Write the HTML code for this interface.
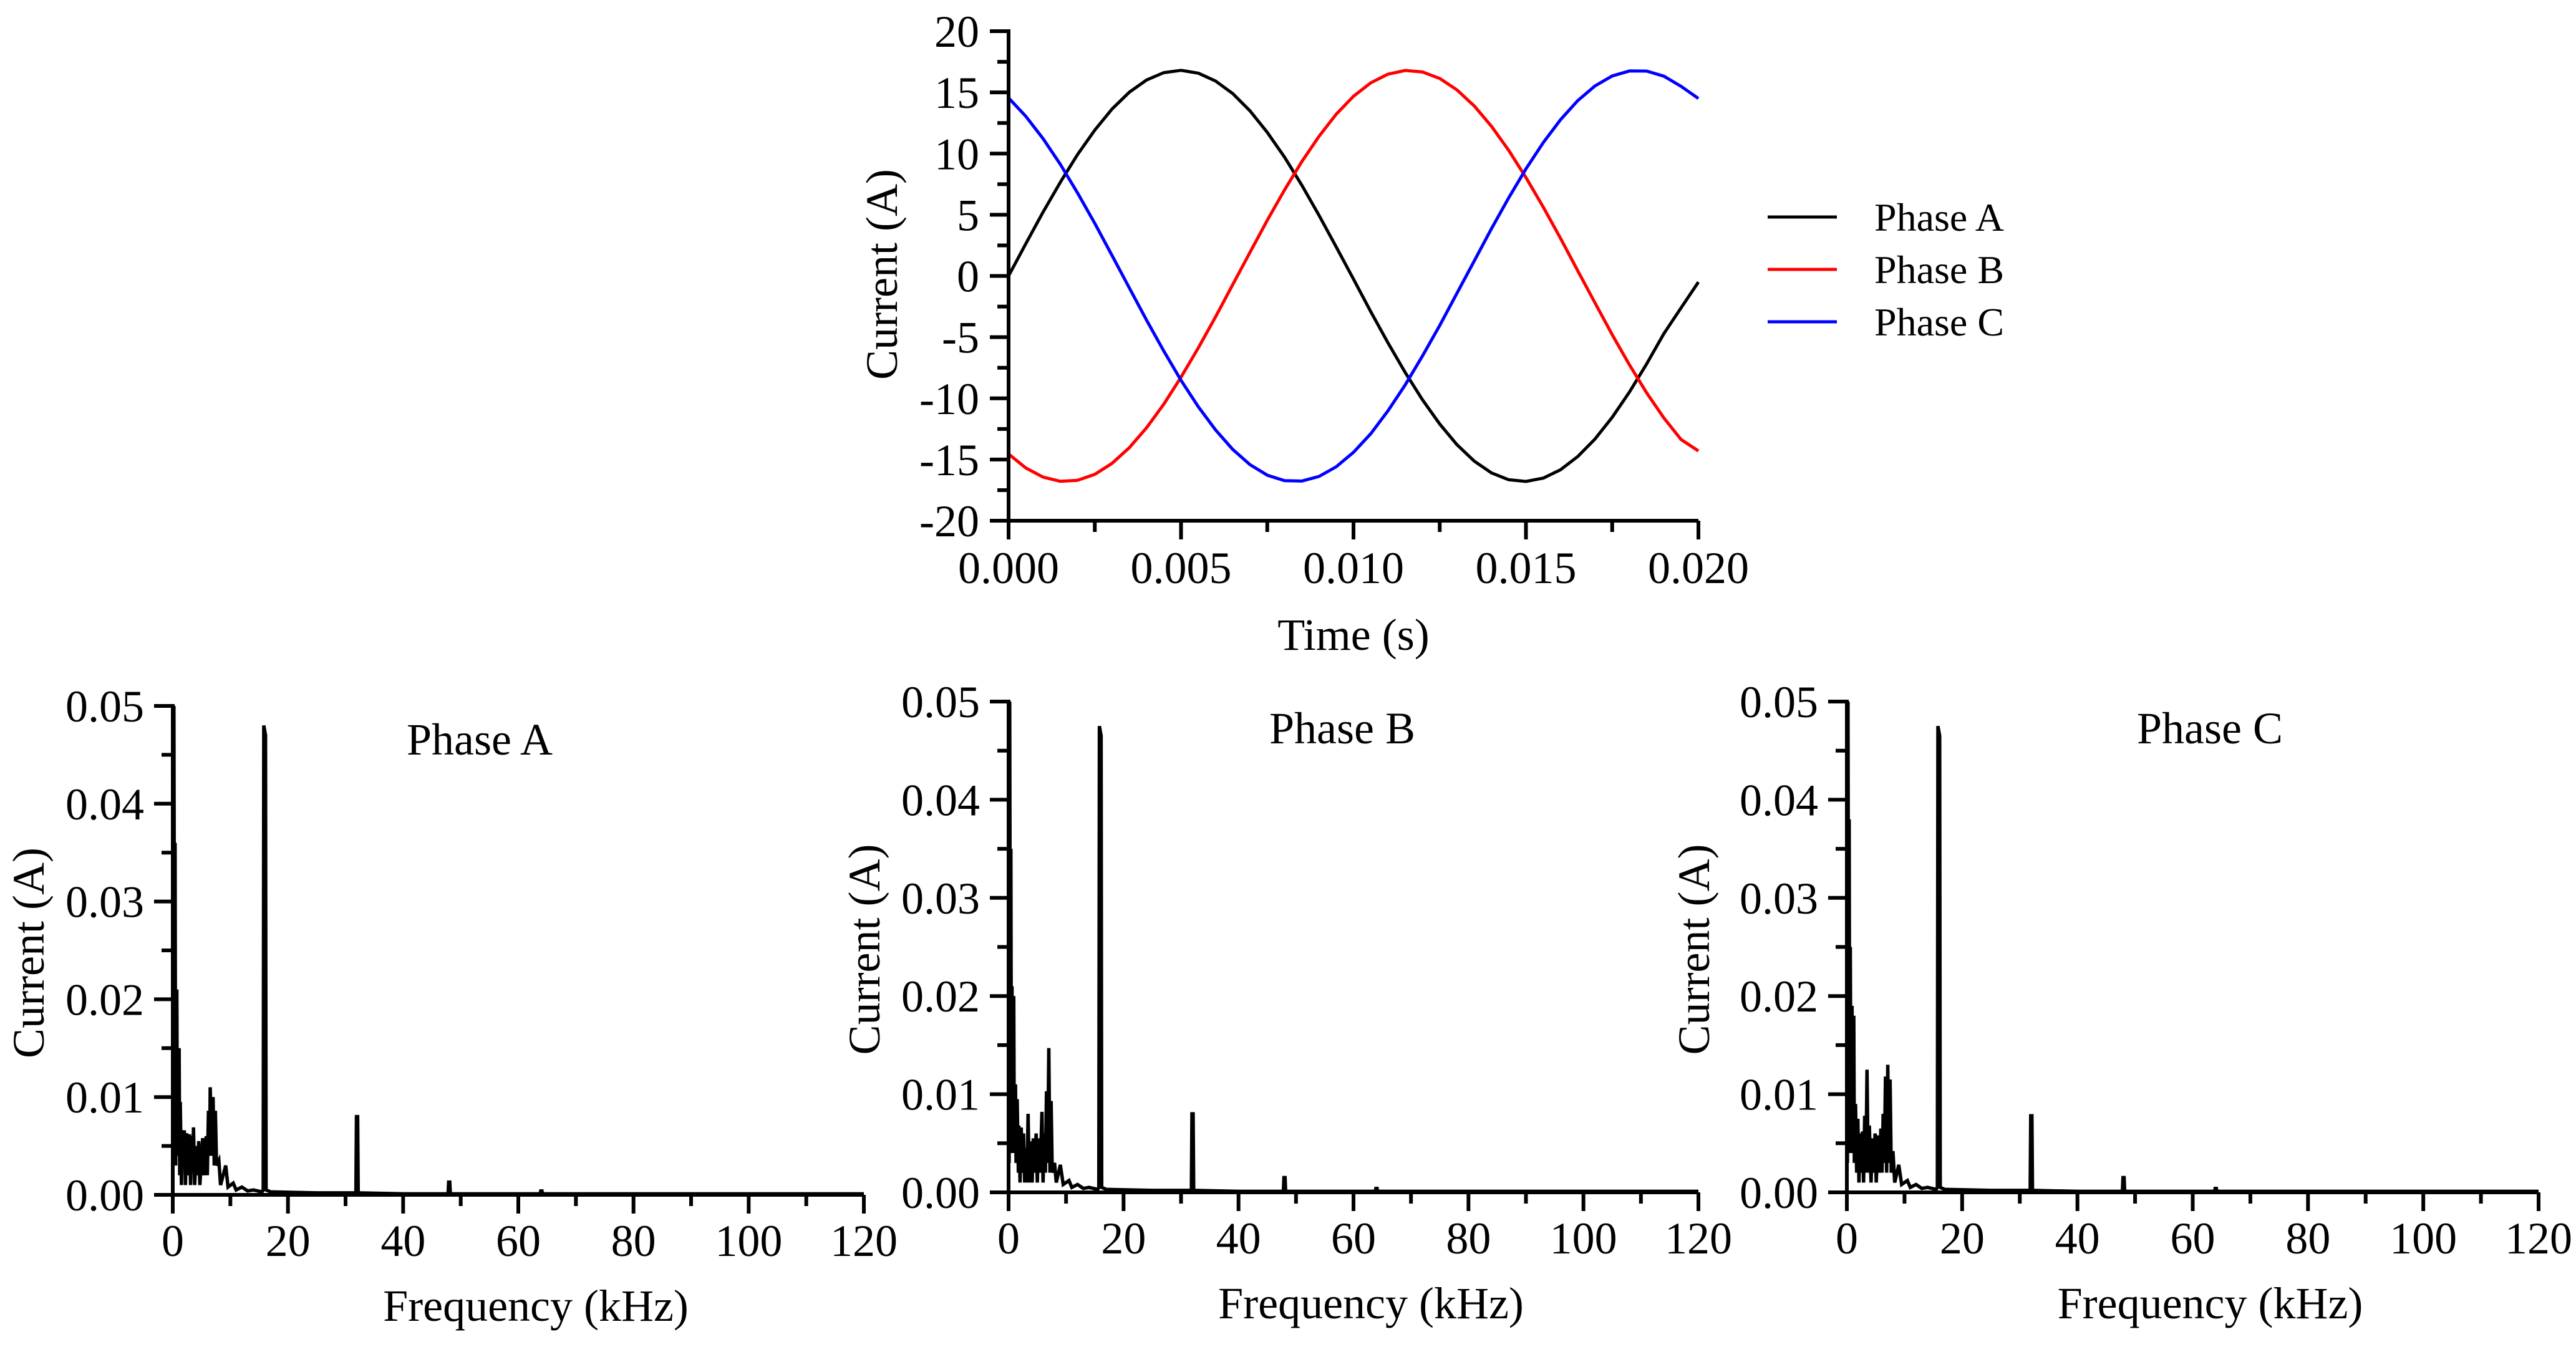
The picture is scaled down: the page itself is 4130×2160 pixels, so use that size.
<!DOCTYPE html>
<html><head><meta charset="utf-8"><style>
html,body{margin:0;padding:0;background:#fff;}
svg{display:block;}
svg text{font-family:"Liberation Serif","Times New Roman",serif;fill:#000;}
</style></head><body>
<svg id="fig" width="4130" height="2160" viewBox="0 0 4130 2160" xmlns="http://www.w3.org/2000/svg" font-family="Liberation Serif, serif"></svg>
<script>
// ---- Top chart data (time domain) ----
const timeStep = 0.0005;
const phaseA = [0,2.64,5.22,7.66,9.92,11.92,13.64,15.01,16.01,16.61,16.80,16.57,15.93,14.90,13.49,11.73,9.71,7.42,4.96,2.37,-0.26,-2.92,-5.47,-7.89,-10.12,-12.10,-13.79,-15.13,-16.09,-16.65,-16.79,-16.52,-15.84,-14.76,-13.33,-11.55,-9.49,-7.18,-4.71,-2.6,-0.5];
const phaseB = [-14.55,-15.69,-16.44,-16.78,-16.70,-16.21,-15.31,-14.04,-12.41,-10.48,-8.27,-5.88,-3.35,-0.70,1.93,4.55,7.02,9.34,11.41,13.22,14.68,15.78,16.49,16.79,16.67,16.14,15.20,13.89,12.23,10.27,8.04,5.63,3.09,0.44,-2.19,-4.80,-7.26,-9.56,-11.61,-13.37,-14.3];
const phaseC = [14.55,13.04,11.22,9.12,6.78,4.29,1.67,-0.97,-3.61,-6.13,-8.53,-10.69,-12.58,-14.18,-15.42,-16.28,-16.73,-16.76,-16.38,-15.59,-14.41,-12.89,-11.02,-8.90,-6.54,-4.04,-1.41,1.23,3.86,6.38,8.75,10.89,12.76,14.32,15.52,16.34,16.75,16.74,16.32,15.49,14.5];
const timeTicks = ["0.000","0.005","0.010","0.015","0.020"];
const currentTicks = ["-20","-15","-10","-5","0","5","10","15","20"];
const legendLabels = ["Phase A","Phase B","Phase C"];

// ---- Spectrum data ----
const specAFreq = [0,0.1,0.2,0.35,0.4,0.5,0.7,0.8,1.1,1.2,1.3,1.5,1.6,1.8,2.0,2.2,2.4,2.6,2.9,3.1,3.3,3.5,3.6,3.8,4.1,4.3,4.5,4.7,5.2,5.4,5.8,6.0,6.2,6.4,6.5,6.8,7.0,7.2,7.4,7.6,8.0,8.3,9.2,9.6,10.5,11,12,13,14,15.5,15.7,15.8,16.1,16.2,17,25,31.8,31.9,32.1,32.2,40,47.8,47.9,48.1,48.2,63.8,63.9,64.1,64.2,120];
const specAAmp = [0.050,0.003,0.050,0.004,0.036,0.003,0.021,0.004,0.015,0.002,0.0095,0.001,0.0066,0.004,0.0066,0.001,0.0063,0.002,0.0062,0.001,0.0060,0.003,0.0069,0.001,0.0050,0.002,0.0055,0.001,0.0058,0.002,0.0060,0.002,0.0086,0.004,0.011,0.004,0.010,0.003,0.0086,0.003,0.0035,0.001,0.003,0.0008,0.0012,0.0005,0.0008,0.0004,0.0005,0.0003,0.0005,0.048,0.047,0.0005,0.0003,0.0002,0.0002,0.008,0.008,0.0002,0.0001,0.0001,0.0013,0.0013,0.0001,0.0001,0.0004,0.0004,0.0001,0.0001];
const specBFreq = [0,0.1,0.2,0.35,0.4,0.5,0.6,0.7,0.9,1.0,1.2,1.3,1.5,1.7,1.8,2.0,2.2,2.4,2.6,2.8,3.0,3.2,3.4,3.6,3.9,4.1,4.3,4.5,4.8,5.0,5.2,5.5,5.8,6.0,6.2,6.4,6.6,6.8,7.0,7.2,7.4,7.6,8.0,8.3,9.0,9.5,10.5,11,12,13,14,15.5,15.7,15.8,16.1,16.2,17,25,31.8,31.9,32.1,32.2,40,47.8,47.9,48.1,48.2,63.8,63.9,64.1,64.2,120];
const specBAmp = [0.050,0.003,0.050,0.004,0.035,0.004,0.021,0.008,0.020,0.004,0.011,0.003,0.0095,0.002,0.0068,0.001,0.0066,0.002,0.0060,0.001,0.0045,0.001,0.0080,0.001,0.0052,0.001,0.0055,0.002,0.0060,0.001,0.0055,0.002,0.0082,0.001,0.0060,0.002,0.0103,0.003,0.0147,0.002,0.0093,0.002,0.0030,0.001,0.0028,0.0008,0.0012,0.0005,0.0008,0.0004,0.0005,0.0003,0.0005,0.0475,0.0465,0.0005,0.0003,0.0002,0.0002,0.008,0.008,0.0002,0.0001,0.0001,0.0015,0.0015,0.0001,0.0001,0.0004,0.0004,0.0001,0.0001];
const specCFreq = [0,0.1,0.2,0.35,0.4,0.5,0.6,0.7,0.9,1.0,1.2,1.3,1.5,1.7,1.9,2.1,2.3,2.5,2.7,2.9,3.1,3.3,3.5,3.7,3.9,4.2,4.4,4.6,4.9,5.1,5.4,5.7,5.9,6.1,6.3,6.5,6.7,6.9,7.1,7.3,7.5,7.7,8.0,8.3,9.0,9.5,10.5,11,12,13,14,15.5,15.7,15.8,16.1,16.2,17,25,31.8,31.9,32.1,32.2,40,47.8,47.9,48.1,48.2,63.8,63.9,64.1,64.2,120];
const specCAmp = [0.050,0.003,0.050,0.004,0.038,0.004,0.025,0.008,0.019,0.004,0.018,0.003,0.0090,0.002,0.0075,0.001,0.0060,0.002,0.0062,0.001,0.0078,0.002,0.0125,0.002,0.0068,0.001,0.0055,0.002,0.0060,0.001,0.0058,0.002,0.0065,0.002,0.0080,0.003,0.0118,0.002,0.0130,0.003,0.0115,0.002,0.0042,0.001,0.0028,0.0008,0.0012,0.0005,0.0008,0.0004,0.0005,0.0003,0.0005,0.0475,0.0465,0.0005,0.0003,0.0002,0.0002,0.0078,0.0078,0.0002,0.0001,0.0001,0.0015,0.0015,0.0001,0.0001,0.0004,0.0004,0.0001,0.0001];
const freqTicks = ["0","20","40","60","80","100","120"];
const ampTicks = ["0.00","0.01","0.02","0.03","0.04","0.05"];

const NS = "http://www.w3.org/2000/svg";
const svg = document.getElementById('fig');
const FONT = '"Liberation Serif", serif';
function mk(tag, attrs, parent){
  const e = document.createElementNS(NS, tag);
  for (const k in attrs) e.setAttribute(k, attrs[k]);
  if (tag === 'text') { e.setAttribute('font-family', FONT); e.style.fontFamily = FONT; }
  (parent||svg).appendChild(e);
  return e;
}
function lin(d0,d1,r0,r1){ return v => r0 + (v-d0)/(d1-d0)*(r1-r0); }

function axes(g, X, Y, x0, x1, y0, y1, xMajor, xMinor, yMajor, yMinor, xLabels, yLabels, xBase, yRight){
  const axis = mk('path', {d:`M${X(x0)},${Y(y1)-3} L${X(x0)},${Y(y0)} L${X(x1)},${Y(y0)}`, stroke:'#000','stroke-width':6, fill:'none'}, g);
  
  
  for (let v=x0; v<=x1+1e-9; v+=xMinor){
    const major = Math.abs(Math.round((v-x0)/xMajor)*xMajor-(v-x0))<1e-9;
    const t = mk('line',{x1:X(v),x2:X(v),y1:Y(y0),y2:Y(y0)+(major?30:18),stroke:'#000','stroke-width':6},g);
    
    
  }
  for (let v=y0; v<=y1+1e-9; v+=yMinor){
    const major = Math.abs(Math.round((v-y0)/yMajor)*yMajor-(v-y0))<1e-9;
    const t = mk('line',{x1:X(x0),x2:X(x0)-(major?30:18),y1:Y(v),y2:Y(v),stroke:'#000','stroke-width':6},g);
    
    
  }
  xLabels.forEach((s,i)=>{
    const t = mk('text',{x:X(x0+i*xMajor),y:xBase,'text-anchor':'middle','font-size':72},g);
    t.textContent = s;
    
    
  });
  yLabels.forEach((s,i)=>{
    const t = mk('text',{x:yRight,y:Y(y0+i*yMajor)+25,'text-anchor':'end','font-size':72},g);
    t.textContent = s;
    
    
  });
}
function label(g, s, x, y, rot, name, size){
  const t = mk('text',{x:x,y:y,'text-anchor':'middle','font-size':size||72},g);
  if (rot) t.setAttribute('transform',`rotate(-90 ${x} ${y})`);
  t.textContent = s;
  
  
  return t;
}

// ---- Top chart ----
(function(){
  const g = mk('g',{});
  
  
  const X = lin(0,0.02,1617,2723), Y = lin(-20,20,835,50);
  const series = [phaseA, phaseB, phaseC], colors = ['#000','#ff0000','#0000ff'], names=['phase-a-line','phase-b-line','phase-c-line'];
  series.forEach((arr,si)=>{
    const pts = arr.map((v,i)=>`${X(i*timeStep).toFixed(1)},${Y(v).toFixed(1)}`).join(' ');
    const p = mk('polyline',{points:pts,fill:'none',stroke:colors[si],'stroke-width':5,'stroke-linejoin':'round'},g);
    
    
  });
  axes(g,X,Y,0,0.02,-20,20,0.005,0.0025,5,2.5,timeTicks,currentTicks,935,1570);
  label(g,'Time (s)',2170,1042,false,'x-axis-title');
  label(g,'Current (A)',1438,440,true,'y-axis-title');
  legendLabels.forEach((s,i)=>{
    const y = 348+i*84;
    const l = mk('line',{x1:2834,x2:2945,y1:y,y2:y,stroke:colors[i],'stroke-width':5},g);
    
    
    const t = mk('text',{x:3005,y:y+22,'font-size':64},g);
    t.textContent = s;
    
    
  });
})();

// ---- Spectrum panels ----
function spectrum(freq, amp, left, right, top, bottom, title, tx, ty, ytx, name){
  const g = mk('g',{});
  
  
  const X = lin(0,120,left,right), Y = lin(0,0.05,bottom,top);
  const pts = freq.map((f,i)=>`${X(f).toFixed(1)},${Y(amp[i]).toFixed(1)}`).join(' ');
  const p = mk('polyline',{points:pts,fill:'none',stroke:'#000','stroke-width':5.5,'stroke-linejoin':'miter'},g);
  
  
  axes(g,X,Y,0,120,0,0.05,20,10,0.01,0.005,freqTicks,ampTicks,bottom+98,left-46);
  label(g,'Frequency (kHz)',(left+right)/2+28,bottom+202,false,'x-axis-title');
  label(g,'Current (A)',ytx,(top+bottom)/2+4,true,'y-axis-title');
  label(g,title,tx,ty,false,'panel-title');
}
spectrum(specAFreq,specAAmp,277,1385,1132,1916,'Phase A',769,1210,70,'spectrum-phase-a');
spectrum(specBFreq,specBAmp,1617,2723,1125,1912,'Phase B',2152,1192,1410,'spectrum-phase-b');
spectrum(specCFreq,specCAmp,2961,4070,1125,1912,'Phase C',3543,1192,2740,'spectrum-phase-c');
</script>
</body></html>
